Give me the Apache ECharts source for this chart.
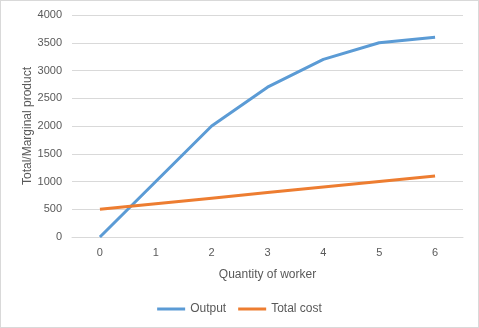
<!DOCTYPE html>
<html>
<head>
<meta charset="utf-8">
<script src="https://cdn.jsdelivr.net/npm/echarts@6/dist/echarts.min.js"></script>
<style>
  html, body { margin: 0; padding: 0; background: #fff; }
  #chart { width: 477px; height: 326px; border: 1px solid #d9d9d9; }
</style>
</head>
<body>
<div id="chart"></div>
<script>
// 数据
const workers = ["0", "1", "2", "3", "4", "5", "6"];
const output = [0, 1000, 2000, 2700, 3200, 3500, 3600];
const totalCost = [500, 600, 700, 800, 900, 1000, 1100];

const textColor = "#595959";
const font = "'Liberation Sans', 'Open Sans', sans-serif";

const myChart = echarts.init(document.getElementById("chart"));

const option = {
  animation: false,
  textStyle: { fontFamily: font, color: textColor },
  grid: { left: 71, right: 15, top: 14, bottom: 90 },
  legend: {
    bottom: 7,
    left: "center",
    icon: "rect",
    itemWidth: 28,
    itemHeight: 3,
    itemGap: 12,
    textStyle: { color: textColor, fontSize: 12, fontFamily: font },
    data: ["Output", "Total cost"],
  },
  xAxis: {
    type: "category",
    data: workers,
    name: "Quantity of worker",
    nameLocation: "middle",
    nameGap: 32,
    nameTextStyle: { color: textColor, fontSize: 12 },
    axisLine: { lineStyle: { color: "#d9d9d9" } },
    axisTick: { show: false },
    axisLabel: { color: textColor, fontSize: 11, margin: 10 },
  },
  yAxis: {
    type: "value",
    min: 0,
    max: 4000,
    interval: 500,
    name: "Total/Marginal product",
    nameLocation: "middle",
    nameGap: 38,
    nameMoveOverlap: false,
    nameTextStyle: { color: textColor, fontSize: 12 },
    axisLine: { show: false },
    axisTick: { show: false },
    axisLabel: { color: textColor, fontSize: 11, margin: 10, formatter: (v) => String(v) },
    splitLine: { lineStyle: { color: "#d9d9d9" } },
  },
  series: [
    {
      name: "Output",
      type: "line",
      data: output,
      symbol: "none",
      color: "#5b9bd5",
      lineStyle: { width: 3, color: "#5b9bd5" },
    },
    {
      name: "Total cost",
      type: "line",
      data: totalCost,
      symbol: "none",
      color: "#ed7d31",
      lineStyle: { width: 3, color: "#ed7d31" },
    },
  ],
};
option && myChart.setOption(option);
</script>
</body>
</html>
